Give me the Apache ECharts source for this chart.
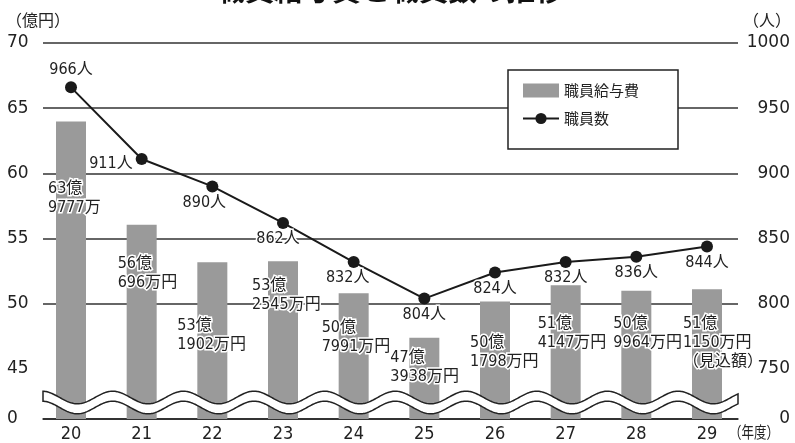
<!DOCTYPE html>
<html>
<head>
<meta charset="utf-8">
<script src="https://cdn.jsdelivr.net/npm/echarts@6.0.0/dist/echarts.min.js"></script>
<style>
html,body{margin:0;padding:0;background:#fff;}
#main{width:795px;height:443px;}
</style>
</head>
<body>
<div id="main"></div>
<script>
// 年度
var years = ['20', '21', '22', '23', '24', '25', '26', '27', '28', '29'];
// 職員給与費（億円）
var salary = [63.9777, 56.0696, 53.1902, 53.2545, 50.7991, 47.3938, 50.1798, 51.4147, 50.9964, 51.1150];
var salaryText = ['63億\n9777万', '56億\n696万円', '53億\n1902万円', '53億\n2545万円', '50億\n7991万円',
	'47億\n3938万円', '50億\n1798万円', '51億\n4147万円', '50億\n9964万円', '51億\n1150万円\n（見込額）'];
// 職員数（人）
var staff = [966, 911, 890, 862, 832, 804, 824, 832, 836, 844];

// label placement (offset from bar top-left)
var salaryLabelPos = [[-8, 58], [-9, 30], [-20, 54], [-16, 15], [-17, 25], [-19, 11], [-10, 32], [-13, 29], [-8, 24], [-9, 25]];

var narrow = "'Liberation Sans Narrow', 'DejaVu Sans Condensed', 'Noto Sans CJK JP', sans-serif";
var cjk = "'Noto Sans CJK JP', sans-serif";

var chart = echarts.init(document.getElementById('main'));

// 波線（省略記号）
function waveBand() {
	var top = [], bottom = [];
	for (var x = 43; x <= 738; x += 1) {
		var y = 397.5 - 6.3 * Math.cos(2 * Math.PI * (x - 42) / 70.67);
		top.push([x, y]);
		bottom.unshift([x, y + 10]);
	}
	return top.concat(bottom);
}

var yLeft = {
	type: 'value', min: 0, max: 70, interval: 5,
	breaks: [{ start: 0, end: 45, gap: '13.3%' }],
	breakArea: { show: false },
	axisLine: { show: false }, axisTick: { show: false }
};
var yRight = {
	type: 'value', min: 0, max: 1000, interval: 50,
	breaks: [{ start: 0, end: 750, gap: '13.3%' }],
	breakArea: { show: false },
	axisLine: { show: false }, axisTick: { show: false }
};

var option = {
	animation: false,
	backgroundColor: '#fff',
	grid: [
		{ left: 43, right: 57, top: 43, bottom: 24 },
		{ left: 35.67, right: 52.67, top: 43, bottom: 24 }
	],
	xAxis: [
		{
			type: 'category', gridIndex: 0, data: years,
			axisLine: { show: true, lineStyle: { color: '#222', width: 1.5 } },
			axisTick: { show: false }, axisLabel: { show: false }
		},
		{
			type: 'category', gridIndex: 1, data: years,
			axisLine: { show: false }, axisTick: { show: false },
			axisLabel: { color: '#222', fontSize: 18, fontFamily: narrow, margin: 6 }
		}
	],
	yAxis: [
		echarts.util.merge({
			gridIndex: 0, position: 'left',
			splitLine: { show: true, lineStyle: { color: '#333', width: 1.5 } },
			axisLabel: { color: '#222', fontSize: 17, fontFamily: 'DejaVu Sans', align: 'left', margin: 36 }
		}, yLeft, true),
		echarts.util.merge({
			gridIndex: 0, position: 'right',
			splitLine: { show: false },
			axisLabel: {
				color: '#222', fontSize: 17, fontFamily: 'DejaVu Sans', align: 'right', margin: 52,
				formatter: function (v) { return String(v); }
			}
		}, yRight, true),
		echarts.util.merge({
			gridIndex: 1, position: 'left', splitLine: { show: false }, axisLabel: { show: false }
		}, yLeft, true),
		echarts.util.merge({
			gridIndex: 1, position: 'right', splitLine: { show: false }, axisLabel: { show: false }
		}, yRight, true)
	],
	legend: {
		orient: 'vertical', left: 508, top: 70,
		padding: [13, 39, 23, 14], itemGap: 13, itemWidth: 36, itemHeight: 14,
		borderColor: '#222', borderWidth: 1.5, backgroundColor: '#fff',
		textStyle: { color: '#222', fontSize: 15, fontFamily: cjk },
		data: [{ name: '職員給与費', icon: 'rect' }, { name: '職員数' }]
	},
	series: [
		{
			name: '職員給与費', type: 'bar', xAxisIndex: 1, yAxisIndex: 2,
			barWidth: 30,
			itemStyle: { color: '#9a9a9a' },
			label: {
				show: true, align: 'left', verticalAlign: 'top',
				color: '#222', fontSize: 16, lineHeight: 19, fontFamily: narrow,
				textBorderColor: '#fff', textBorderWidth: 3
			},
			data: salary.map(function (v, i) {
				return { value: v, label: { position: salaryLabelPos[i], formatter: salaryText[i] } };
			})
		},
		{
			name: '職員数', type: 'line', xAxisIndex: 1, yAxisIndex: 3,
			symbol: 'circle', symbolSize: 12,
			lineStyle: { color: '#1a1a1a', width: 2 },
			itemStyle: { color: '#1a1a1a' },
			label: {
				show: true, position: 'bottom', distance: 2,
				color: '#222', fontSize: 16, fontFamily: narrow,
				textBorderColor: '#fff', textBorderWidth: 3,
				formatter: '{c}人'
			},
			data: staff.map(function (v, i) {
				if (i === 0) return { value: v, label: { position: 'top', distance: 3 } };
				if (i === 1) return { value: v, label: { position: 'left', distance: 3, offset: [0, 5] } };
				if (i === 2) return { value: v, label: { offset: [-8, 0] } };
				if (i === 3) return { value: v, label: { offset: [-5, 0] } };
				if (i === 4) return { value: v, label: { offset: [-6, 0] } };
				return v;
			})
		}
	],
	graphic: [
		{
			type: 'text', left: 216, top: -25, z: 100,
			style: { text: '職員給与費と職員数の推移', fill: '#111', font: "bold 29px 'Noto Sans CJK JP'" }
		},
		{
			type: 'text', left: 6, top: 12, z: 100,
			style: { text: '（億円）', fill: '#222', font: "16px 'Noto Sans CJK JP'" }
		},
		{
			type: 'text', right: 4, top: 12, z: 100,
			style: { text: '（人）', fill: '#222', font: "16px 'Noto Sans CJK JP'" }
		},
		{
			type: 'text', left: 729, top: 424, z: 100, scaleX: 0.78,
			style: { text: '（年度）', fill: '#222', font: "16px 'Noto Sans CJK JP'" }
		},
		{
			type: 'polygon', z: 100,
			shape: { points: waveBand() },
			style: { fill: '#fff', stroke: '#222', lineWidth: 1.5 }
		}
	]
};

chart.setOption(option);
</script>
</body>
</html>
